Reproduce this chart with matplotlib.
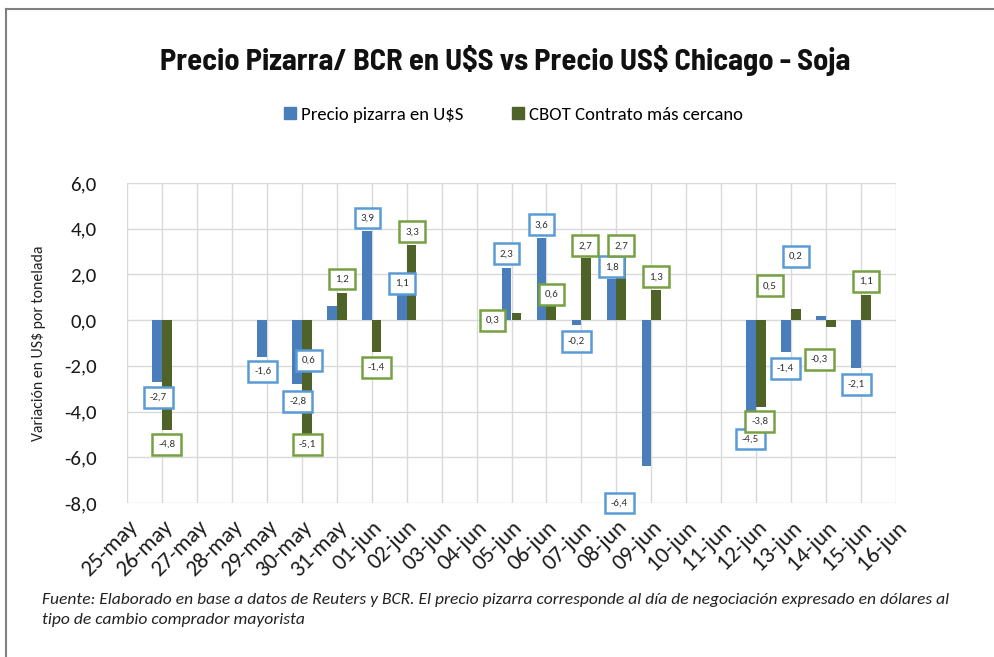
import numpy as np
import matplotlib
matplotlib.use("Agg")
import matplotlib.pyplot as plt
import matplotlib.transforms as mtransforms
from matplotlib.patches import Patch
from matplotlib.lines import Line2D

dates = ["25-may", "26-may", "27-may", "28-may", "29-may", "30-may", "31-may",
         "01-jun", "02-jun", "03-jun", "04-jun", "05-jun", "06-jun", "07-jun",
         "08-jun", "09-jun", "10-jun", "11-jun", "12-jun", "13-jun", "14-jun",
         "15-jun", "16-jun"]
nan = np.nan
pizarra = [nan, -2.7, nan, nan, -1.6, -2.8, 0.6, 3.9, 1.1, nan, nan, 2.3, 3.6, -0.2,
           1.8, -6.4, nan, nan, -4.5, -1.4, 0.2, -2.1, nan]
cbot = [nan, -4.8, nan, nan, nan, -5.1, 1.2, -1.4, 3.3, nan, nan, 0.3, 0.6, 2.7,
        2.7, 1.3, nan, nan, -3.8, 0.5, -0.3, 1.1, nan]
series_names = ["Precio pizarra en U$S", "CBOT Contrato más cercano"]
yticks = [6, 4, 2, 0, -2, -4, -6, -8]

# label offsets (dx, dy) relative to bar end, in data units
blue_off = {1: (0.03, -0.68), 4: (0.03, -0.64), 5: (0.03, -0.75), 6: (-0.66, -2.35),
            7: (0.02, 0.57), 8: (0.01, 0.52), 11: (0.0, 0.6), 12: (0.0, 0.57),
            13: (0.0, -0.72), 14: (0.0, 0.53), 15: (-0.77, -1.6), 18: (-0.03, -0.7),
            19: (-0.03, -0.7), 20: (-0.72, 2.6), 21: (0.0, -0.72)}
green_off = {1: (0.0, -0.64), 5: (0.03, -0.34), 6: (0.01, 0.6), 7: (-0.01, -0.66),
             8: (0.02, 0.56), 11: (-0.68, -0.3), 12: (0.0, 0.54), 13: (-0.03, 0.55),
             14: (0.0, 0.55), 15: (0.0, 0.6), 18: (-0.04, -0.63), 19: (-0.74, 1.0),
             20: (-0.34, -1.41), 21: (0.0, 0.6)}

BLUE = "#4a7ebb"
GREEN = "#4f6228"
BLUE_EDGE = "#5b9bd5"
GREEN_EDGE = "#77a043"
body = ["Carlito", "DejaVu Sans"]
title_font = ["Barlow Semi Condensed", "Barlow Condensed", "DejaVu Sans"]

fig = plt.figure(figsize=(9.94, 6.57), dpi=100)
ax = fig.add_axes([127/994, 1-503/657, (896-127)/994, (503-183)/657])

x = np.arange(len(dates))
w = 0.28
ax.bar(x - w/2, pizarra, width=w, color=BLUE, zorder=3)
ax.bar(x + w/2, cbot, width=w, color=GREEN, zorder=3)

def fmt(v):
    return f"{v:.1f}".replace(".", ",")

def put_labels(vals, offs, shift, edge):
    for i, (dx, dy) in offs.items():
        v = vals[i]
        ax.text(x[i] + shift + dx, v + dy, fmt(v), ha="center", va="center", fontsize=7.8,
                color="#333333", zorder=5, family=body,
                bbox=dict(boxstyle="square,pad=0.55", fc="white", ec=edge, lw=1.8))

put_labels(pizarra, blue_off, -w/2, BLUE_EDGE)
put_labels(cbot, green_off, w/2, GREEN_EDGE)

ax.set_xlim(0, len(dates) - 1)
ax.set_ylim(-8, 6)
ax.set_yticks(yticks)
ax.set_yticklabels([fmt(t) for t in yticks], fontsize=15, color="#1a1a1a", family=body)
ax.set_xticks(x)
ax.set_xticklabels(dates, rotation=45, ha="right", va="top", rotation_mode="anchor",
                   fontsize=16.5, color="#1a1a1a", family=body)
shift = mtransforms.ScaledTranslation(-9/100, -14/100, fig.dpi_scale_trans)
for lab in ax.get_xticklabels():
    lab.set_transform(lab.get_transform() + shift)
ax.tick_params(length=0)
ax.tick_params(axis="y", pad=22)
ax.tick_params(axis="x", pad=10)
ax.grid(True, color="#d9d9d9", lw=1, zorder=0)
for s in ax.spines.values():
    s.set_visible(False)
ax.set_ylabel("Variación en US$ por tonelada", fontsize=11.3, color="#222222",
              family=body, labelpad=13)

fig.text(0.508, 1-60/657, "Precio Pizarra/ BCR en U\\$S vs Precio US\\$ Chicago - Soja",
         ha="center", va="center", fontsize=22, fontweight="bold", family=title_font,
         color="#111111")

handles = [Patch(color=BLUE), Patch(color=GREEN)]
fig.legend(handles, series_names, loc="center", bbox_to_anchor=(0.517, 1-115/657), ncol=2,
           frameon=False, prop={"family": body, "size": 13.5}, handlelength=0.6,
           handleheight=0.6, columnspacing=2.6, handletextpad=0.3)

fig.text(42/994, 1-600/657, "Fuente: Elaborado en base a datos de Reuters y BCR. El precio pizarra corresponde al día de negociación expresado en dólares al",
         ha="left", va="center", fontsize=12.6, style="italic", family=body, color="#222222")
fig.text(42/994, 1-620/657, "tipo de cambio comprador mayorista",
         ha="left", va="center", fontsize=12.6, style="italic", family=body, color="#222222")

# outer frame (left and top)
fig.add_artist(Line2D([6/994, 6/994], [0, 1-9/657], transform=fig.transFigure, color="#7f7f7f", lw=1.5))
fig.add_artist(Line2D([6/994, 1], [1-9/657, 1-9/657], transform=fig.transFigure, color="#7f7f7f", lw=1.5))

fig.savefig("out.png", dpi=100)
